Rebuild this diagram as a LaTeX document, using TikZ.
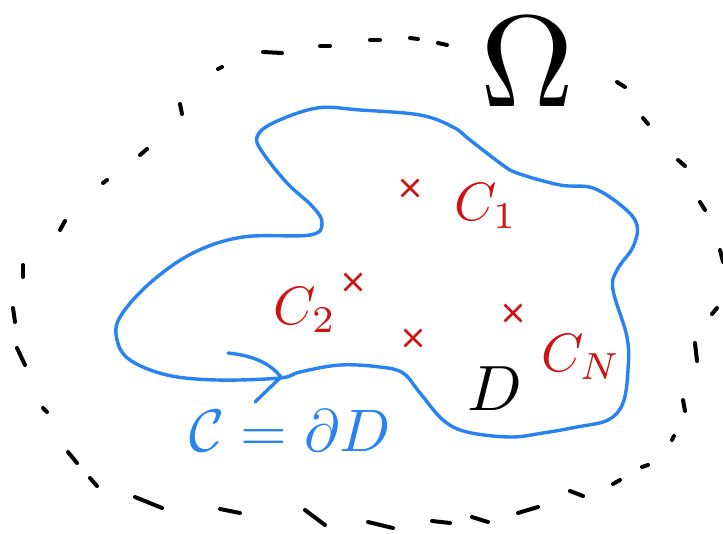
\documentclass[tikz,border=0pt]{standalone}
\usepackage{amsmath}
\usepackage{xcolor}
\usetikzlibrary{shapes.misc}

\definecolor{penblue}{RGB}{40,130,240}
\definecolor{penred}{RGB}{205,20,20}

\begin{document}
\begin{tikzpicture}[
    x=1pt, y=-1pt,
    blob/.style={
        draw=penblue,
        line width=3.4pt,
        line cap=round,
        line join=round
    },
    ring/.style={
        black,
        line width=4pt,
        line cap=round
    },
    pole/.style={
        cross out,
        draw=penred,
        line width=2.8pt,
        minimum size=14pt,
        inner sep=0pt
    },
    big/.style={
        transform shape,
        scale=#1
    },
    lbl/.style={
        text=penred,
        big=5.4
    }
]
\useasboundingbox (0,0) rectangle (723,533);

% Outer region, hand-drawn dashes
\foreach \a/\b in {
    {23,265}/{23,277}, {13,308}/{15,322}, {17,348}/{25,365},
    {43,408}/{47,412}, {68,452}/{77,463}, {90,478}/{97,486},
    {135,497}/{162,508}, {220,509}/{240,513}, {305,510}/{325,525},
    {368,522}/{393,528}, {432,521}/{450,523}, {472,517}/{488,522},
    {518,513}/{538,507}, {570,491}/{583,496}, {613,484}/{620,480},
    {642,467}/{648,465}, {672,440}/{674,436}, {683,400}/{685,411},
    {695,343}/{697,361}, {712,314}/{717,308}, {720,250}/{723,262},
    {700,202}/{705,210}, {678,160}/{685,166}, {643,118}/{648,124},
    {617,82}/{625,87}, {438,43}/{447,45}, {410,38}/{418,39},
    {370,40}/{380,40}, {320,46}/{330,46}, {263,52}/{282,53},
    {218,69}/{222,67}, {180,104}/{182,114}, {140,155}/{147,149},
    {103,183}/{107,180}, {60,230}/{65,221}}
    \draw [ring] (\a) -- (\b);

\node (omega) [big=13] at (527,62) {$\Omega$};

% Domain D and its boundary
\draw [blob] plot [smooth cycle, tension=0.6] coordinates {
    (257,137) (273,123) (317,108) (360,110) (420,115) (453,127)
    (470,140) (500,163) (517,173) (560,185) (593,188) (623,207)
    (637,225) (633,247) (617,270) (613,290) (627,337) (628,370)
    (623,403) (608,420) (577,427) (543,433) (510,437) (467,432)
    (443,420) (420,393) (403,373) (380,367) (340,365) (300,372)
    (280,378) (217,380) (167,375) (130,360) (117,340) (120,317)
    (150,283) (193,253) (243,237) (310,235) (322,223) (313,207)
    (287,183) (263,153)};

% orientation mark
\coordinate (tip) at (281,377);
\draw [blob] (228,353) .. controls (258,356) and (272,366) .. (tip) -- (255,402);

\node (dom) [big=6.4] at (495,389) {$D$};
\node (bdry) [text=penblue, big=6] at (290,431) {$\mathcal{C} = \partial D$};

% Points and labels
\node (p1) [pole] at (410,188) {};
\node (p2) [pole] at (353,282) {};
\node (p3) [pole] at (413,338) {};
\node (p4) [pole] at (513,313) {};

\node (c1) [lbl] at (486,206) {$C_1$};
\node (c2) [lbl] at (305,310) {$C_2$};
\node (cn) [lbl] at (581,357) {$C_N$};

\end{tikzpicture}
\end{document}
